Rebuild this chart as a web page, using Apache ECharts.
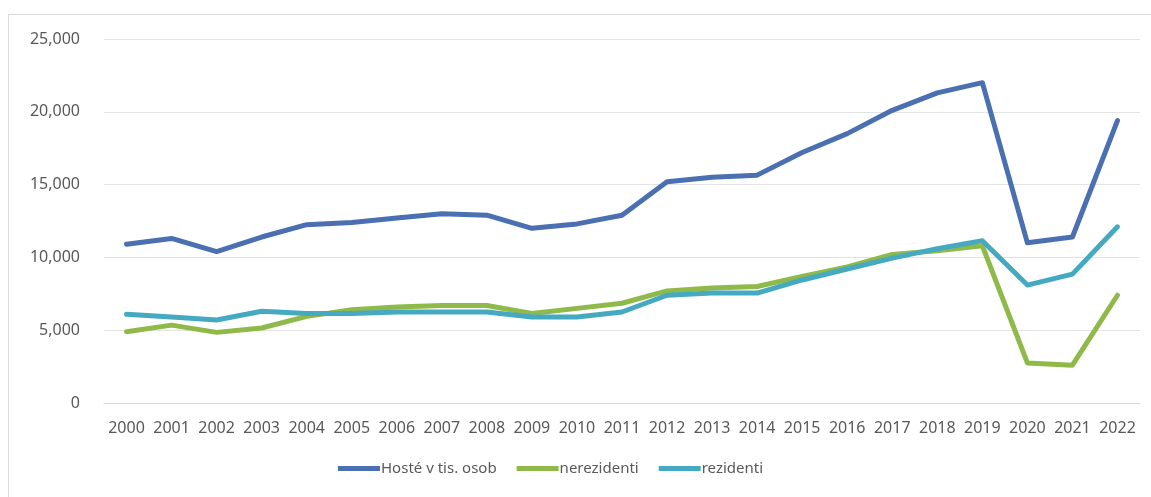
<!DOCTYPE html>
<html>
<head>
<meta charset="utf-8">
<script src="https://cdn.jsdelivr.net/npm/echarts@6/dist/echarts.min.js"></script>
<style>
  html, body { margin: 0; padding: 0; background: #fff; overflow: hidden; }
  #frame { position: absolute; left: 8px; top: 14px; width: 1200px; height: 600px; border: 1px solid #d9d9d9; }
  #chart { position: absolute; left: 0; top: 0; width: 1151px; height: 497px; }
</style>
</head>
<body>
<div id="frame"></div>
<div id="chart"></div>
<script>
  const years = ['2000', '2001', '2002', '2003', '2004', '2005', '2006', '2007', '2008', '2009', '2010', '2011',
    '2012', '2013', '2014', '2015', '2016', '2017', '2018', '2019', '2020', '2021', '2022'];
  const hoste = [10900, 11300, 10400, 11400, 12250, 12400, 12700, 13000, 12900, 12000, 12300, 12900,
    15200, 15500, 15650, 17200, 18500, 20100, 21300, 22000, 11000, 11400, 19400];
  const nerezidenti = [4900, 5350, 4850, 5150, 5950, 6400, 6600, 6700, 6700, 6150, 6500, 6850,
    7700, 7900, 8000, 8700, 9350, 10200, 10450, 10800, 2750, 2600, 7400];
  const rezidenti = [6100, 5900, 5700, 6300, 6150, 6150, 6250, 6250, 6250, 5900, 5900, 6250,
    7400, 7550, 7550, 8450, 9200, 9950, 10600, 11150, 8100, 8850, 12100];
  const yTicks = [0, 5000, 10000, 15000, 20000, 25000];

  const colors = ['#4a70b2', '#8fba4a', '#45a9c2'];
  const names = ['Hosté v tis. osob', 'nerezidenti', 'rezidenti'];
  const values = [hoste, nerezidenti, rezidenti];

  const chart = echarts.init(document.getElementById('chart'));
  chart.setOption({
    animation: false,
    backgroundColor: 'transparent',
    color: colors,
    textStyle: { fontFamily: 'Noto Sans' },
    grid: { left: 104, right: 11, top: 39, bottom: 94, containLabel: false },
    legend: {
      left: 333,
      top: 456,
      itemWidth: 42,
      itemHeight: 14,
      itemGap: 20,
      textStyle: { color: '#595959', fontSize: 15, fontFamily: 'Noto Sans', padding: [0, 0, 0, -4] },
      data: names.map((n, i) => ({ name: n, icon: 'path://M0,0 L42,0 L42,5 L0,5 Z', itemStyle: { color: colors[i] } }))
    },
    xAxis: {
      type: 'category',
      data: years,
      boundaryGap: true,
      axisLine: { lineStyle: { color: '#d9d9d9', width: 1 } },
      axisTick: { show: false },
      axisLabel: { color: '#595959', fontSize: 16, margin: 17, interval: 0 }
    },
    yAxis: {
      type: 'value',
      min: yTicks[0],
      max: yTicks[yTicks.length - 1],
      interval: 5000,
      axisLine: { show: false },
      axisTick: { show: false },
      splitLine: { lineStyle: { color: '#e3e3e3', width: 1 } },
      axisLabel: {
        color: '#595959', fontSize: 16, margin: 24,
        formatter: v => v.toLocaleString('en-US')
      }
    },
    series: names.map((n, i) => ({
      name: n,
      type: 'line',
      data: values[i],
      symbol: 'none',
      lineStyle: { width: 5, color: colors[i], cap: 'round', join: 'round' }
    }))
  });
</script>
</body>
</html>
